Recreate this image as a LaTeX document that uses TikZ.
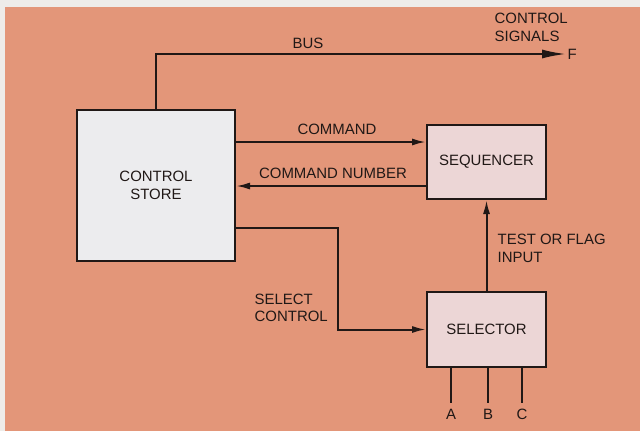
\documentclass[tikz,border=0pt]{standalone}
\usepackage{fontspec}
\setmainfont{Liberation Sans}
\usetikzlibrary{positioning, arrows.meta, calc}

\definecolor{paper}{RGB}{238,236,233}
\definecolor{salmon}{RGB}{227,150,121}
\definecolor{storefill}{RGB}{236,236,238}
\definecolor{unitfill}{RGB}{236,214,214}
\definecolor{ink}{RGB}{32,24,22}

\begin{document}
\begin{tikzpicture}[
  x=1bp, y=-1bp,
  >={Latex[length=14bp, width=7bp]},
  block/.style={rectangle, draw=ink, line width=2bp, inner sep=0pt,
    align=center, font=\fontsize{15}{17.5}\selectfont, text=ink, fill=#1},
  block/.default={unitfill},
  sig/.style={->, line width=2bp, draw=ink},
  wire/.style={line width=2bp, draw=ink},
  lbl/.style={font=\fontsize{15}{17.5}\selectfont, text=ink, inner sep=1.5bp, align=left},
]

% --- Paper and panel ---
\fill[paper] (0,0) rectangle (640,431);
\fill[salmon] (5,7) rectangle (640,431);
\useasboundingbox (0,0) rectangle (640,431);

% --- Blocks ---
\node[block=storefill, minimum width=158bp, minimum height=151bp] (cstore) at (156,185.5)
  {CONTROL\\STORE};
\node[block, minimum width=119bp, minimum height=74bp] (seq) at (486.5,162) {SEQUENCER};
\node[block, minimum width=119bp, minimum height=75bp] (sel) at (486.5,329.5) {SELECTOR};

% --- Bus out ---
\node[lbl, anchor=west] (fout) at (566,54) {F};
\draw[sig, -{Latex[length=24bp, width=9bp]}] (cstore.north) |- (fout.west);
\node[lbl] (bus) at (308,43) {BUS};
\node[lbl, anchor=west] (ctlsig) at (493,27.5) {CONTROL\\SIGNALS};

% --- Command / command number ---
\coordinate (cmdin) at ([yshift=-18bp]seq.north west);
\draw[sig] (cstore.east |- cmdin) -- (cmdin);
\node[lbl] (cmd) at (337,129) {COMMAND};

\coordinate (cnout) at ([yshift=14bp]seq.south west);
\draw[sig] (cnout) -- (cstore.east |- cnout);
\node[lbl] (cnum) at (333,173) {COMMAND NUMBER};

% --- Select control ---
\coordinate (scout) at ([yshift=34bp]cstore.south east);
\draw[sig] (scout) -- ++(102,0) |- (sel.west);
\node[lbl, anchor=west] (selctl) at (253,308) {SELECT\\CONTROL};

% --- Test or flag input ---
\draw[sig] (sel.north) -- (seq.south);
\node[lbl, anchor=west] (tfin) at (496,248.5) {TEST OR FLAG\\INPUT};

% --- Selector inputs ---
\node[lbl] (ina) at (451,414) {A};
\node[lbl] (inb) at (488,414) {B};
\node[lbl] (inc) at (522,414) {C};
\foreach \n in {ina, inb, inc}
  \draw[wire] (\n.north |- sel.south) -- ([yshift=4bp]\n.north);

\end{tikzpicture}
\end{document}
